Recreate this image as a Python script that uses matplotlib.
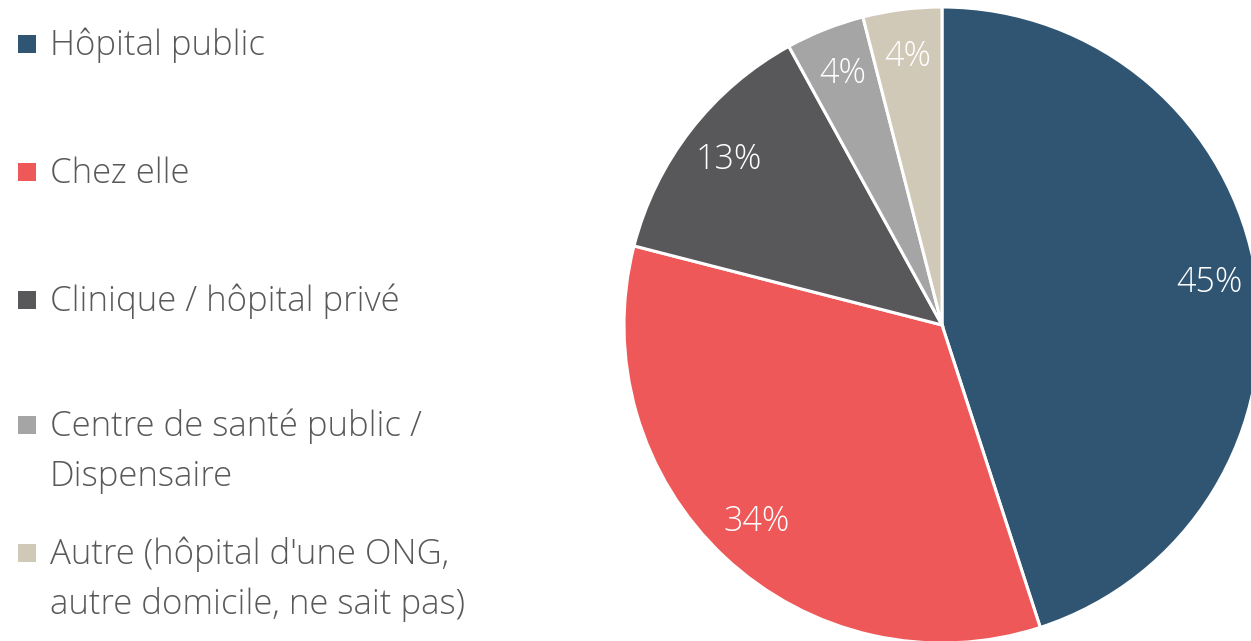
import matplotlib
matplotlib.use("Agg")
import matplotlib.pyplot as plt
from matplotlib.patches import Rectangle

categories = ["Hôpital public", "Chez elle", "Clinique / hôpital privé",
              "Centre de santé public /\nDispensaire",
              "Autre (hôpital d'une ONG,\nautre domicile, ne sait pas)"]
values = [45, 34, 13, 4, 4]
colors = ["#2F5573", "#EE5858", "#58585A", "#A5A5A5", "#D0C9B8"]

W, H = 1251, 641
fig = plt.figure(figsize=(W / 100, H / 100), dpi=100)
ax = fig.add_axes([0, 0, 1, 1])

font = dict(family=["Open Sans", "DejaVu Sans"], weight="light")

wedges, texts, autotexts = ax.pie(
    values, colors=colors, startangle=90, counterclock=False,
    center=(942, H - 325), radius=318,
    autopct=lambda p: f"{p:.0f}%", pctdistance=0.85,
    wedgeprops=dict(edgecolor="white", linewidth=2.2),
    textprops=dict(color="white", fontsize=24.5, **font))
ax.set_xlim(0, W)
ax.set_ylim(0, H)
ax.set_aspect("auto")
ax.axis("off")

# legend
baselines = [55, 183, 311, 436, 564]
line_gap = 50
for cat, col, yb in zip(categories, colors, baselines):
    fig.patches.append(Rectangle((18 / W, 1 - (yb - 2) / H), 18 / W, 18 / H,
                                 transform=fig.transFigure, facecolor=col,
                                 edgecolor="none"))
    for i, line in enumerate(cat.split("\n")):
        fig.text(50 / W, 1 - (yb + i * line_gap) / H, line, ha="left",
                 va="baseline", color="#595959", fontsize=25, **font)

fig.savefig("out.png", dpi=100)
